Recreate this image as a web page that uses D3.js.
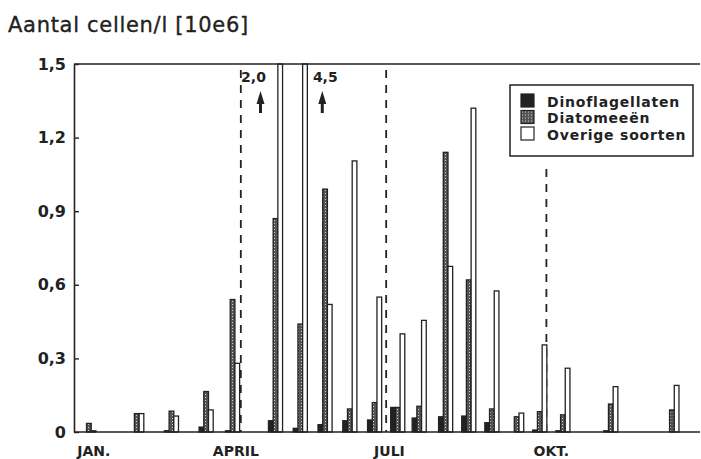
<!DOCTYPE html>
<html>
<head>
<meta charset="utf-8">
<script src="https://cdn.jsdelivr.net/npm/d3@7"></script>
<style>
    body { margin: 0; background: #fff; }
    svg { display: block; }
    text { font-family: "DejaVu Sans", Arial, sans-serif; fill: #222; }
</style>
</head>
<body>
<svg id="chart" width="701" height="459"></svg>
<script>
// sampling days (days since 1 jan)
const sampleDays = [-5, 24, 45, 66, 82, 108, 123, 138, 153, 168, 182, 195, 211, 225, 239, 254, 268, 282, 311, 348];
const dino    = [0, 0, 0.005, 0.02, 0.005, 0.046, 0.015, 0.03, 0.046, 0.049, 0.10, 0.057, 0.062, 0.065, 0.038, 0, 0.008, 0.005, 0.005, 0];
const diatom  = [0.035, 0.075, 0.085, 0.165, 0.54, 0.87, 0.44, 0.99, 0.094, 0.12, 0.10, 0.105, 1.14, 0.62, 0.094, 0.062, 0.083, 0.07, 0.114, 0.09];
const overige = [0.005, 0.075, 0.065, 0.09, 0.28, 2.0, 4.5, 0.52, 1.105, 0.55, 0.40, 0.455, 0.675, 1.32, 0.575, 0.077, 0.355, 0.26, 0.185, 0.19];

const seriesNames = ["Dinoflagellaten", "Diatomeeën", "Overige soorten"];
const yTicks = [0, 0.3, 0.6, 0.9, 1.2, 1.5];
const monthLabels = ["JAN.", "APRIL", "JULI", "OKT."];
const monthDays = [-2, 84, 177, 275];
const quarterDays = [87, 175, 272];

const width = 701, height = 459;
const margin = {top: 64, right: 1, bottom: 27, left: 74};
const yMax = 1.5;

const paper = d3.select("#chart");

const x = d3.scaleLinear().domain([-14, 365]).range([margin.left, width - margin.right]);
const y = d3.scaleLinear().domain([0, yMax]).range([height - margin.bottom, margin.top]);

const ink = "#222";
const barW = 4.7;
const fmt = d => d === 0 ? "0" : d3.format(".1f")(d).replace(".", ",");

// stipple pattern for the diatoms
const defs = paper.append("defs");
const pat = defs.append("pattern")
    .attr("id", "stipple")
    .attr("patternUnits", "userSpaceOnUse")
    .attr("width", 3).attr("height", 3);
pat.append("rect").attr("width", 3).attr("height", 3).attr("fill", "#555");
pat.append("rect").attr("x", 1).attr("y", 1).attr("width", 1).attr("height", 1).attr("fill", "#ccc");

// title
paper.append("text")
    .attr("x", 8).attr("y", 32)
    .attr("font-size", 21)
    .attr("letter-spacing", 0.7)
    .attr("stroke", ink).attr("stroke-width", 0.35)
    .text("Aantal cellen/l [10e6]");

// legend box geometry
const legX = 510, legY = 85, legW = 183, legH = 71;

// quarter separators
paper.selectAll(".quarter")
    .data(quarterDays)
    .join("line")
    .attr("class", "quarter")
    .attr("x1", d => x(d)).attr("x2", d => x(d))
    .attr("y1", d => (x(d) > legX && x(d) < legX + legW) ? legY + legH + 13 : y(yMax) + 6)
    .attr("y2", y(0))
    .attr("stroke", ink)
    .attr("stroke-width", 1.8)
    .attr("stroke-dasharray", "8,7");

// bars
const samples = sampleDays.map((d, i) => ({day: d, values: [dino[i], diatom[i], overige[i]]}));
const fills = [ink, "url(#stipple)", "#fff"];

const groups = paper.selectAll(".sample")
    .data(samples)
    .join("g")
    .attr("class", "sample");

groups.selectAll("rect")
    .data(s => s.values.map((v, k) => ({day: s.day, v, k})))
    .join("rect")
    .attr("x", b => x(b.day) + (b.k - 1.5) * barW)
    .attr("width", barW)
    .attr("y", b => y(Math.min(b.v, yMax)))
    .attr("height", b => y(0) - y(Math.min(b.v, yMax)))
    .attr("fill", b => fills[b.k])
    .attr("stroke", ink)
    .attr("stroke-width", 1.3);

// off-scale annotations
const offScale = samples.filter(s => s.values[2] > yMax);
const annDx = [[-22, -15], [25, 22]];   // [label, arrow] offset from the sample
offScale.forEach((s, i) => {
    const lx = x(s.day) + annDx[i][0];
    const ax = x(s.day) + annDx[i][1];
    paper.append("text")
        .attr("x", lx).attr("y", 82)
        .attr("text-anchor", "middle")
        .attr("font-size", 14).attr("font-weight", "bold")
        .text(fmt(s.values[2]));
    paper.append("path")
        .attr("d", `M${ax},91 L${ax + 4},104 L${ax + 1.5},104 L${ax + 1.5},113 L${ax - 1.5},113 L${ax - 1.5},104 L${ax - 4},104 Z`)
        .attr("fill", ink);
});

// frame: top and bottom lines
paper.append("line")
    .attr("x1", x.range()[0]).attr("x2", x.range()[1])
    .attr("y1", y(yMax)).attr("y2", y(yMax))
    .attr("stroke", ink).attr("stroke-width", 1.6);
paper.append("line")
    .attr("x1", x.range()[0]).attr("x2", x.range()[1])
    .attr("y1", y(0)).attr("y2", y(0))
    .attr("stroke", ink).attr("stroke-width", 1.6);

// y axis
const yAxis = paper.append("g")
    .attr("transform", `translate(${margin.left},0)`)
    .call(d3.axisLeft(y)
        .tickValues(yTicks)
        .tickSizeInner(-5)
        .tickSizeOuter(0)
        .tickPadding(8)
        .tickFormat(fmt));
yAxis.select(".domain").attr("stroke", ink).attr("stroke-width", 1.6);
yAxis.selectAll(".tick line").attr("stroke", ink).attr("stroke-width", 1.4);
yAxis.selectAll(".tick text")
    .attr("font-size", 16)
    .attr("font-weight", "bold")
    .attr("fill", ink)
    .style("font-family", "'DejaVu Sans', Arial, sans-serif");

// month labels
paper.selectAll(".month")
    .data(monthLabels)
    .join("text")
    .attr("class", "month")
    .attr("x", (d, i) => x(monthDays[i]))
    .attr("y", 456)
    .attr("text-anchor", "middle")
    .attr("font-size", 14)
    .attr("font-weight", "bold")
    .text(d => d);

// legend
const legend = paper.append("g").attr("transform", `translate(${legX},${legY})`);
legend.append("rect")
    .attr("width", legW).attr("height", legH)
    .attr("fill", "#fff")
    .attr("stroke", ink).attr("stroke-width", 1.5);
const items = legend.selectAll(".item")
    .data(seriesNames)
    .join("g")
    .attr("class", "item")
    .attr("transform", (d, i) => `translate(11,${9 + i * 16.5})`);
items.append("rect")
    .attr("width", 13).attr("height", 13)
    .attr("fill", (d, i) => fills[i])
    .attr("stroke", ink).attr("stroke-width", 1.2);
items.append("text")
    .attr("x", 26).attr("y", 12.5)
    .attr("font-size", 14)
    .attr("font-weight", "bold")
    .attr("letter-spacing", 0.8)
    .text(d => d);
</script>
</body>
</html>
